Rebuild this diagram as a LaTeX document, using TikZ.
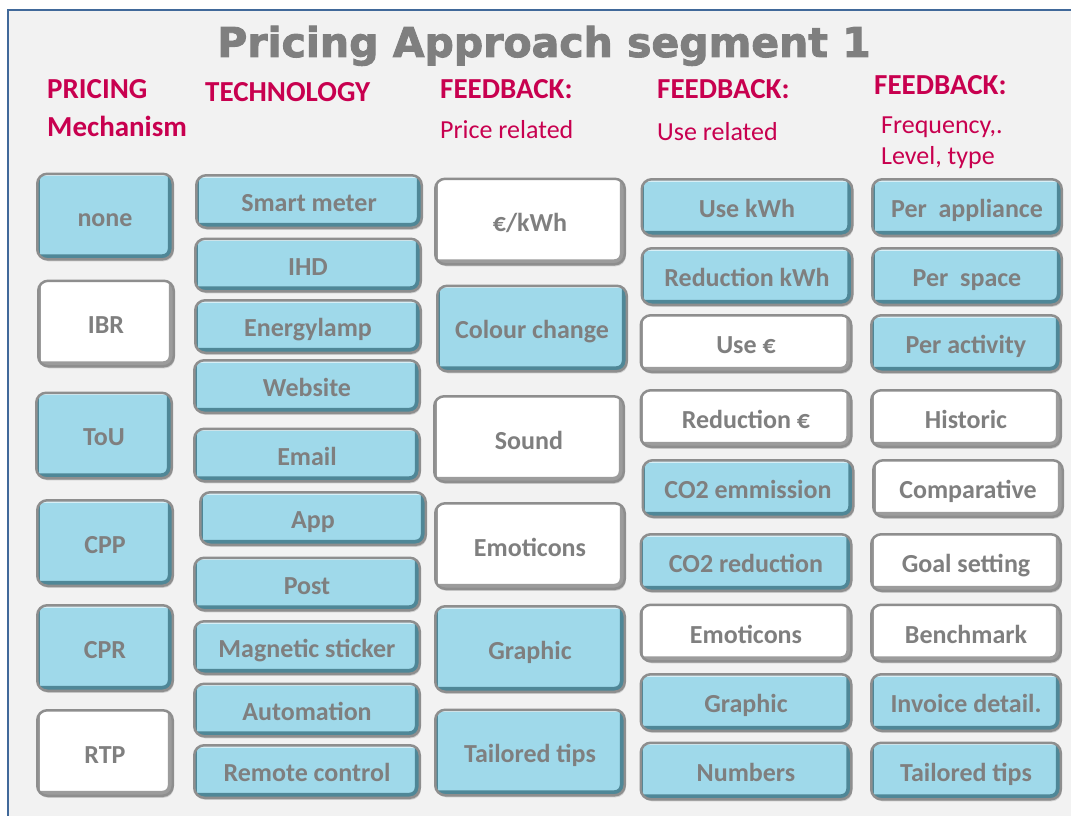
\documentclass[tikz,border=0pt]{standalone}
\usepackage{fontspec}
\setmainfont{Carlito}
\newfontfamily\titlefont{DejaVu Sans}[BoldFeatures={FakeBold=2.2}]
\usetikzlibrary{shadows}
\definecolor{frameblue}{HTML}{41699A}
\definecolor{panel}{HTML}{F2F2F2}
\definecolor{capblue}{HTML}{9FD9EA}
\definecolor{capedge}{HTML}{8E8E8E}
\definecolor{capdeep}{HTML}{4F8797}
\definecolor{capgrey}{HTML}{9C9C9C}
\definecolor{captext}{HTML}{7F7F7F}
\definecolor{headred}{HTML}{C8004F}
\tikzset{
  btn/.style 2 args={rounded corners=10pt, draw=capedge, line width=2.5pt, fill=#1,
    text=captext, font=\fontsize{26}{30}\selectfont\bfseries, inner sep=0pt,
    text height=26pt, text depth=6pt,
    drop shadow={shadow xshift=1pt, shadow yshift=-2pt, fill=black, opacity=0.15},
    path picture={
      \draw[#2, line width=10pt] (path picture bounding box.north east) -- (path picture bounding box.south east) -- (path picture bounding box.south west);
      \draw[#2, line width=4.5pt] (path picture bounding box.north west) -- (path picture bounding box.south west);
      \draw[white, opacity=0.6, line width=5pt] (path picture bounding box.north west) -- (path picture bounding box.north east);
    }},
  bluecap/.style={btn={capblue}{capdeep}},
  whitecap/.style={btn={white}{capgrey}},
  pricing/.style={minimum width=135.5pt, minimum height=85.5pt},
  tech/.style={minimum width=225.5pt, minimum height=52.5pt},
  priceinfo/.style={minimum width=189.5pt, minimum height=85.5pt},
  useinfo/.style={minimum width=210.5pt, minimum height=56.5pt},
  freqinfo/.style={minimum width=189.5pt, minimum height=56.5pt},
  colhead/.style={anchor=base west, inner sep=0pt, text=headred, font=\fontsize{29}{34}\selectfont\bfseries},
  colsub/.style={colhead, font=\fontsize{26}{30}\selectfont}
}
\begin{document}
\begin{tikzpicture}[x=1pt, y=-1pt]
\useasboundingbox (0,0) rectangle (1071,816);
\fill[white] (0,0) rectangle (1071,816);
\draw[frameblue, line width=2pt, fill=panel] (8,10) rectangle (1090,830);

\node[anchor=base, inner sep=0pt, text=captext, font=\titlefont\bfseries\fontsize{41}{48}\selectfont] (title) at (544,57) {Pricing Approach segment 1};

\node[colhead] (h1) at (47,99) {PRICING};
\node[colhead] (h1b) at (47,136) {Mechanism};
\node[colhead] (h2) at (205,102) {TECHNOLOGY};
\node[colhead] (h3) at (440,98) {FEEDBACK:};
\node[colsub] (h3b) at (440,138) {Price related};
\node[colhead] (h4) at (657,98) {FEEDBACK:};
\node[colsub] (h4b) at (657,140) {Use related};
\node[colhead] (h5) at (874,95) {FEEDBACK:};
\node[colsub] (h5b) at (881,133) {Frequency,.};
\node[colsub] (h5c) at (881,164) {Level, type};

\node[bluecap, pricing] (none) at (105,216.5) {none};
\node[whitecap, pricing] (ibr) at (106,323.5) {IBR};
\node[bluecap, pricing] (tou) at (104,435.5) {ToU};
\node[bluecap, pricing] (cpp) at (105,543) {CPP};
\node[bluecap, pricing] (cpr) at (105,648) {CPR};
\node[whitecap, pricing] (rtp) at (105,753) {RTP};

\node[bluecap, tech] (smart) at (309,201.5) {Smart meter};
\node[bluecap, tech] (ihd) at (308,265) {IHD};
\node[bluecap, tech] (lamp) at (308,326.5) {Energylamp};
\node[bluecap, tech] (web) at (307,386.5) {Website};
\node[bluecap, tech] (mail) at (307,455) {Email};
\node[bluecap, tech] (app) at (313,518.5) {App};
\node[bluecap, tech] (post) at (307,584) {Post};
\node[bluecap, tech] (sticker) at (307,647.5) {Magnetic sticker};
\node[bluecap, tech] (auto) at (307,710) {Automation};
\node[bluecap, tech] (remote) at (307,771.5) {Remote control};

\node[whitecap, priceinfo] (eurokwh) at (530,221.5) {€/kWh};
\node[bluecap, priceinfo] (colour) at (532,328.5) {Colour change};
\node[whitecap, priceinfo] (sound) at (529,439) {Sound};
\node[whitecap, priceinfo] (pemo) at (530,546) {Emoticons};
\node[bluecap, priceinfo] (pgraph) at (530,649) {Graphic};
\node[bluecap, priceinfo] (ptips) at (530,752.5) {Tailored tips};

\node[bluecap, useinfo] (usekwh) at (747,207.5) {Use kWh};
\node[bluecap, useinfo] (redkwh) at (747,276.5) {Reduction kWh};
\node[whitecap, useinfo] (useeur) at (746,343.5) {Use €};
\node[whitecap, useinfo] (redeur) at (746,418.5) {Reduction €};
\node[bluecap, useinfo] (coem) at (748,488.5) {CO2 emmission};
\node[bluecap, useinfo] (cored) at (746,562.5) {CO2 reduction};
\node[whitecap, useinfo] (uemo) at (746,633) {Emoticons};
\node[bluecap, useinfo] (ugraph) at (746,702.5) {Graphic};
\node[bluecap, useinfo] (nums) at (746,771) {Numbers};

\node[bluecap, freqinfo] (appl) at (967,207.5) {Per\ \ appliance};
\node[bluecap, freqinfo] (space) at (967,276.5) {Per\ \ space};
\node[bluecap, freqinfo] (activ) at (966,343.5) {Per activity};
\node[whitecap, freqinfo] (hist) at (966,418.5) {Historic};
\node[whitecap, freqinfo] (comp) at (968,488.5) {Comparative};
\node[whitecap, freqinfo] (goal) at (966,562.5) {Goal setting};
\node[whitecap, freqinfo] (bench) at (966,633) {Benchmark};
\node[bluecap, freqinfo] (invoice) at (966,702.5) {Invoice detail.};
\node[bluecap, freqinfo] (ftips) at (966,771) {Tailored tips};
\end{tikzpicture}
\end{document}
